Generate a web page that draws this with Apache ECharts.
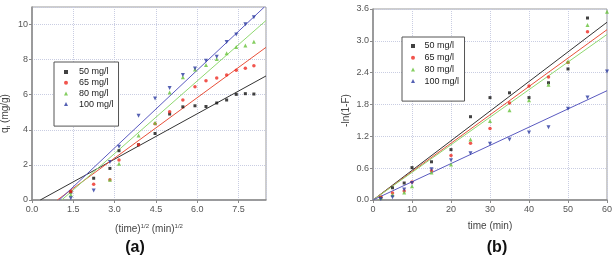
<!DOCTYPE html>
<html>
<head>
<meta charset="utf-8">
<script src="https://cdn.jsdelivr.net/npm/echarts@6/dist/echarts.min.js"></script>
<style>
  html, body { margin: 0; padding: 0; background: #fff; }
  #main { width: 612px; height: 262px; }
</style>
</head>
<body>
<div id="main"></div>
<script>
    // panel (a): q_t vs sqrt(time)
    var names = ['50 mg/l', '65 mg/l', '80 mg/l', '100 mg/l'];
    var xA = [1.41, 2.24, 2.83, 3.16, 3.87, 4.47, 5.0, 5.48, 5.92, 6.32, 6.71, 7.07, 7.42, 7.75, 8.06];
    var a50 = [0.45, 1.24, 1.8, 2.81, 3.15, 3.79, 4.9, 5.31, 5.37, 5.33, 5.53, 5.7, 6.02, 6.06, 6.04];
    var a65 = [0.48, 0.9, 1.16, 2.28, 3.15, 4.35, 5.03, 5.7, 6.46, 6.79, 6.96, 7.13, 7.4, 7.51, 7.65];
    var a80 = [0.3, null, 1.16, 2.07, 3.68, 4.4, 6.12, 7.0, 7.44, 7.69, 8.03, 8.37, 8.72, 8.8, 9.02];
    var a100 = [0.1, 0.54, 2.16, 3.04, 4.8, 5.79, 6.39, 7.13, 7.5, 7.93, 8.16, 9.0, 9.43, 10.02, 10.42];
    // fitted lines, read as end points [x0, y0, x1, y1]
    var fitA = [
        [0.3, 0, 8.5, 7.07],
        [0.92, 0, 8.5, 8.7],
        [1.08, 0, 8.5, 10.23],
        [0.99, 0, 8.44, 11]
    ];

    // panel (b): -ln(1-F) vs time
    var xB = [2, 5, 8, 10, 15, 20, 25, 30, 35, 40, 45, 50, 55, 60];
    var b50 = [0.05, 0.23, 0.32, 0.61, 0.72, 0.95, 1.57, 1.93, 2.02, 1.93, 2.21, 2.47, 3.43, null];
    var b65 = [0.05, 0.13, 0.17, 0.34, 0.55, 0.84, 1.07, 1.35, 1.83, 2.15, 2.32, 2.59, 3.17, null];
    var b80 = [0.04, 0.1, 0.14, 0.26, 0.52, 0.67, 1.14, 1.49, 1.69, 1.88, 2.17, 2.61, 3.3, 3.55];
    var b100 = [0.02, 0.05, 0.2, 0.32, 0.58, 0.75, 0.88, 1.06, 1.14, 1.27, 1.37, 1.72, 1.93, 2.42];
    var fitB = [
        [0, 0, 60, 3.35],
        [0, 0, 60, 3.21],
        [0, 0, 60, 3.12],
        [0, 0, 60, 2.06]
    ];

    var dotColors = ['#111111', '#ee2a22', '#66c23a', '#2b3aa0'];
    var lineColors = ['#333333', '#e8503a', '#8fd870', '#5a5ac0'];
    var symbols = ['rect', 'circle', 'triangle', 'triangle'];
    var symbolSizes = [3, 3.5, 4, 4];
    var symbolRotates = [0, 0, 0, 180];

    var font = 'Liberation Sans';

    var pair = function(xs, ys) {
        var out = [];
        for (var i = 0; i < xs.length; i++) {
            if (ys[i] !== null) out.push([xs[i], ys[i]]);
        }
        return out;
    };

    var makeAxis = function(gi, min, max, interval, digits, isX) {
        return {
            type: 'value',
            gridIndex: gi,
            min: min,
            max: max,
            interval: interval,
            axisLine: { show: true, onZero: false, lineStyle: { color: '#8a8a8a', width: 1.5 } },
            axisTick: { show: true, inside: false, length: 3, lineStyle: { color: '#8a8a8a' } },
            axisLabel: {
                color: '#555',
                fontSize: 9,
                fontFamily: font,
                margin: isX ? 5 : 4,
                showMaxLabel: Math.abs(max / interval - Math.round(max / interval)) < 1e-9,
                formatter: function(v) { return digits ? v.toFixed(digits) : String(v); }
            },
            splitLine: { show: true, lineStyle: { color: '#c9cde2', type: 'dotted', width: 1 } },
            nameLocation: 'middle',
            nameTextStyle: { color: '#444', fontSize: 10, fontFamily: font }
        };
    };

    var xAxes = [makeAxis(0, 0, 8.5, 1.5, 1, true), makeAxis(1, 0, 60, 10, 0, true)];
    var yAxes = [makeAxis(0, 0, 11, 2, 0, false), makeAxis(1, 0, 3.6, 0.6, 1, false)];

    xAxes[0].name = '(time){s|1/2} (min){s|1/2}';
    xAxes[0].nameGap = 23;
    xAxes[0].nameTextStyle.rich = { s: { fontSize: 6, fontFamily: font, color: '#444', verticalAlign: 'top', padding: [0, 0, 6, 0] } };
    xAxes[1].name = 'time (min)';
    xAxes[1].nameGap = 21;

    yAxes[0].name = 'q{s|t} (mg/g)';
    yAxes[0].nameGap = 21;
    yAxes[0].nameTextStyle.padding = [0, 20, 0, 0];
    yAxes[0].nameTextStyle.rich = { s: { fontSize: 6, fontFamily: font, color: '#444', verticalAlign: 'bottom', padding: [5, 0, 0, 0] } };
    yAxes[1].name = '-ln(1-F)';
    yAxes[1].nameGap = 22;
    yAxes[1].nameTextStyle.padding = [0, 12, 0, 0];

    var series = [];
    var addPanel = function(gi, xs, sets, fits) {
        for (var k = 0; k < names.length; k++) {
            var f = fits[k];
            series.push({
                name: names[k] + ' fit ' + gi,
                type: 'line',
                xAxisIndex: gi,
                yAxisIndex: gi,
                data: [[f[0], f[1]], [f[2], f[3]]],
                showSymbol: false,
                silent: true,
                lineStyle: { color: lineColors[k], width: 1 },
                z: 2
            });
        }
        for (var k = 0; k < names.length; k++) {
            series.push({
                name: names[k],
                type: 'scatter',
                xAxisIndex: gi,
                yAxisIndex: gi,
                data: pair(xs, sets[k]),
                symbol: symbols[k],
                symbolSize: symbolSizes[k],
                symbolRotate: symbolRotates[k],
                itemStyle: { color: dotColors[k] },
                z: 3
            });
        }
    };
    addPanel(0, xA, [a50, a65, a80, a100], fitA);
    addPanel(1, xB, [b50, b65, b80, b100], fitB);

    var legendBase = function(left, top, gap, pad, textPad) {
        return {
            data: names,
            orient: 'vertical',
            left: left,
            top: top,
            itemWidth: 4,
            itemHeight: 4,
            itemGap: gap,
            padding: pad,
            borderColor: '#555',
            borderWidth: 1,
            backgroundColor: '#fff',
            selectedMode: false,
            textStyle: { color: '#222', fontSize: 9, fontFamily: font, lineHeight: 10, padding: [0, 0, 0, textPad] }
        };
    };

    var option = {
        animation: false,
        backgroundColor: '#fff',
        title: [
            { text: '(a)', left: 130, top: 235, textAlign: 'center',
              textStyle: { fontSize: 16, fontWeight: 'bold', color: '#111', fontFamily: font } },
            { text: '(b)', left: 492, top: 235, textAlign: 'center',
              textStyle: { fontSize: 16, fontWeight: 'bold', color: '#111', fontFamily: font } }
        ],
        grid: [
            { left: 32, right: 346, top: 7, bottom: 62, show: true, borderColor: '#9a9a9a', borderWidth: 1, outerBoundsMode: 'none' },
            { left: 373, right: 5, top: 9, bottom: 62, show: true, borderColor: '#9a9a9a', borderWidth: 1, outerBoundsMode: 'none' }
        ],
        legend: [
            legendBase(54, 62, 0.7, [5, 5, 17, 10], 6),
            legendBase(402, 37, 1.7, [4, 5.5, 15, 9], 4.5)
        ],
        xAxis: xAxes,
        yAxis: yAxes,
        series: series
    };

    var myChart = echarts.init(document.getElementById('main'), null, { renderer: 'canvas' });
    myChart.setOption(option);
</script>
</body>
</html>
